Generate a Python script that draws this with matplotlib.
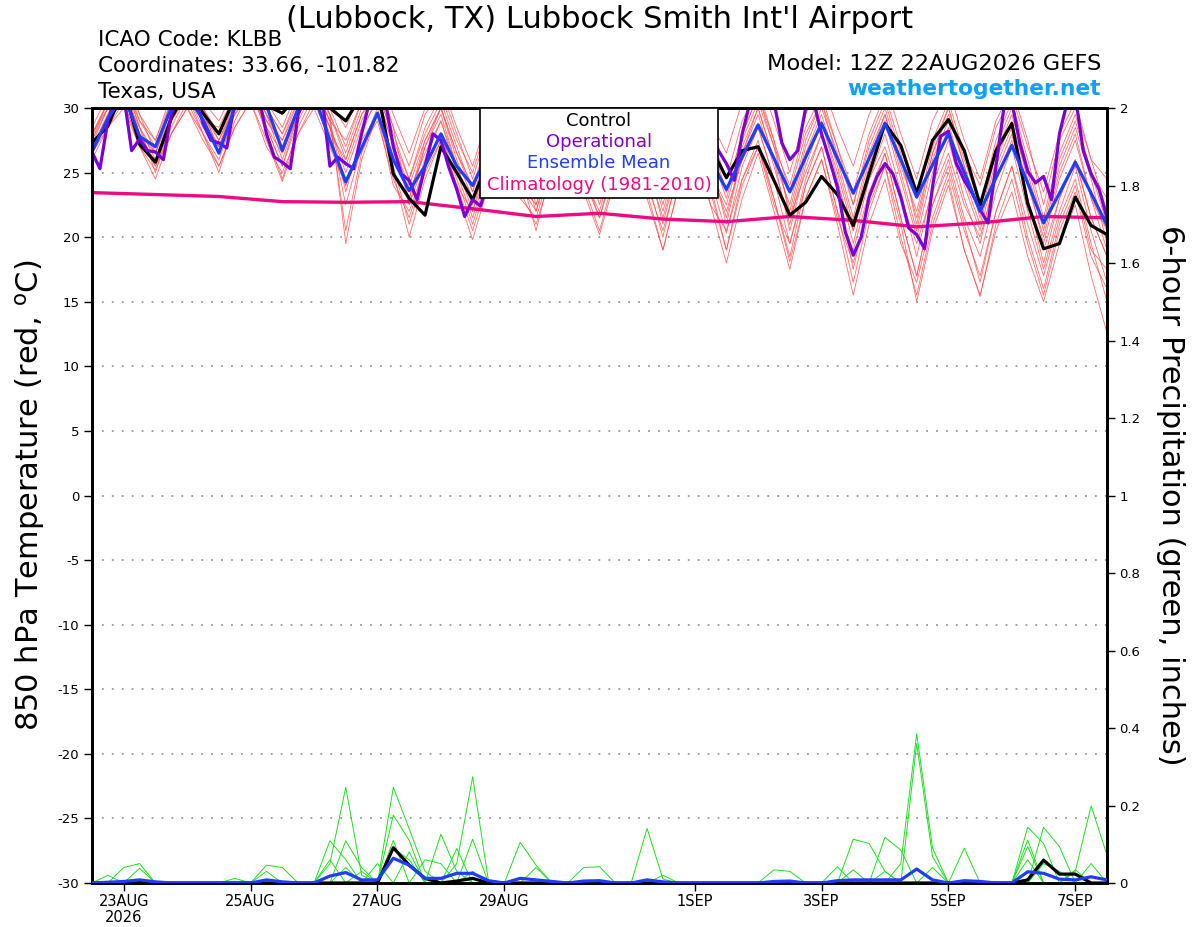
import numpy as np
import matplotlib
matplotlib.use("Agg")
import matplotlib.pyplot as plt
from matplotlib.patches import Rectangle

plt.rcParams['font.family'] = ['DejaVu Sans']
plt.rcParams['axes.unicode_minus'] = False

# forecast hours (GEFS 6-hourly, operational 3-hourly, climatology daily)
hours = np.arange(0, 385, 6)
op_hours = np.arange(0, 385, 3)
clim_hours = np.arange(0, 385, 24)

control = [27.3, 28.6, 31.5, 27.2, 25.8, 29.2, 31.5, 29.6, 28.0, 30.8, 32.0, 30.2,
           29.6, 31.0, 32.0, 30.0, 29.0, 31.0, 31.5, 24.9, 23.0, 21.7, 27.0, 25.0,
           22.9, 26.0, 29.5, 28.5, 25.5, 27.5, 30.5, 28.5, 25.5, 28.0, 30.5, 29.0,
           25.5, 28.0, 30.5, 27.0, 24.6, 26.7, 27.0, 24.4, 21.7, 22.7, 24.7, 23.3,
           20.9, 24.9, 28.8, 27.1, 23.4, 27.5, 29.1, 26.7, 22.5, 26.7, 28.8, 22.6,
           19.1, 19.5, 23.1, 20.9, 20.2]

ens_mean = [26.6, 29.2, 31.0, 27.8, 27.0, 30.0, 31.0, 29.1, 26.5, 30.0, 31.0, 30.2,
            26.7, 30.0, 31.0, 27.5, 24.3, 26.9, 29.6, 26.0, 23.6, 25.5, 28.0, 25.5,
            24.0, 26.5, 29.0, 28.0, 25.5, 27.0, 29.5, 28.0, 25.5, 27.5, 29.5, 28.0,
            25.0, 27.0, 29.0, 26.0, 23.7, 26.2, 28.7, 26.1, 23.5, 26.2, 28.8, 26.1,
            23.4, 26.1, 28.8, 26.0, 23.1, 25.6, 28.0, 25.0, 22.0, 24.6, 27.1, 24.2,
            21.1, 23.4, 25.8, 23.4, 20.9]

operational = [26.6, 25.3, 29.0, 31.0, 31.0, 26.7, 27.6, 26.7, 26.6, 26.0,
               29.5, 31.0, 32.0, 31.0, 28.8, 27.5, 27.3, 26.9, 30.5, 31.5,
               32.0, 31.0, 28.0, 26.2, 25.8, 25.3, 29.5, 31.0, 32.0, 31.0,
               25.5, 26.2, 25.7, 25.3, 28.0, 30.5, 31.0, 30.5, 27.0, 24.9,
               24.4, 22.9, 25.5, 28.0, 27.5, 25.4, 23.7, 21.6, 22.9, 22.4,
               24.5, 25.8, 28.0, 30.0, 31.0, 30.0, 28.0, 26.0, 25.0, 26.0,
               29.0, 31.0, 31.5, 30.0, 28.0, 26.5, 25.5, 27.0, 29.5, 31.0,
               31.5, 30.5, 28.0, 26.5, 25.5, 27.0, 29.5, 30.5, 28.5, 26.7,
               25.7, 24.4, 28.0, 30.5, 31.5, 32.0, 30.5, 27.3, 26.0, 26.7,
               30.0, 30.5, 28.0, 26.0, 23.9, 20.4, 18.6, 20.0, 23.1, 24.7,
               25.7, 24.9, 23.1, 20.7, 20.2, 19.1, 23.9, 27.8, 28.2, 25.7,
               24.4, 23.4, 22.1, 21.1, 25.5, 30.0, 30.5, 27.3, 25.1, 24.2,
               24.7, 22.9, 28.0, 30.5, 31.0, 26.7, 24.9, 23.7, 21.5]

climatology = [23.45, 23.3, 23.15, 22.75, 22.7, 22.75, 22.2, 21.6, 21.85,
               21.4, 21.2, 21.6, 21.3, 20.8, 21.1, 21.6, 21.5]

members = [
    [27.0, 29.5, 31.5, 28.0, 25.5, 29.0, 31.5, 29.5, 27.5, 30.5, 32.0, 29.0, 27.0, 30.0, 31.5, 28.5,
     25.0, 28.5, 30.5, 26.0, 23.5, 26.5, 29.0, 25.5, 22.5, 26.0, 28.5, 25.0, 23.0, 27.0, 29.5, 26.0,
     24.0, 27.5, 30.0, 26.5, 23.0, 27.0, 29.0, 25.0, 22.0, 26.0, 28.5, 24.5, 21.5, 25.0, 28.0, 24.0,
     20.5, 24.5, 27.0, 23.0, 19.5, 23.5, 26.5, 22.5, 20.0, 24.5, 27.5, 23.0, 19.0, 23.0, 26.0, 21.5, 18.5],
    [28.0, 30.5, 32.5, 28.5, 26.5, 30.0, 32.0, 30.0, 28.0, 31.0, 32.5, 30.0, 28.0, 31.0, 32.5, 29.5,
     19.5, 26.0, 29.5, 24.0, 22.0, 25.5, 28.0, 24.5, 21.0, 25.0, 28.0, 24.0, 22.5, 26.5, 29.0, 25.0,
     21.5, 26.0, 28.5, 24.5, 20.0, 25.5, 28.5, 24.0, 19.0, 24.5, 27.5, 23.0, 18.5, 24.0, 27.0, 22.0,
     16.5, 22.0, 25.5, 20.0, 15.5, 21.0, 24.5, 19.0, 15.5, 20.5, 23.5, 18.5, 15.0, 19.5, 22.5, 17.0, 12.6],
    [26.5, 29.0, 31.0, 27.5, 25.5, 28.0, 30.5, 28.0, 25.0, 29.0, 31.5, 28.0, 24.5, 28.5, 31.0, 28.0,
     26.0, 29.5, 31.5, 27.5, 24.5, 28.0, 30.5, 27.0, 23.5, 27.5, 30.0, 26.5, 24.0, 28.0, 31.0, 27.5,
     25.0, 29.0, 31.5, 27.5, 24.5, 28.0, 30.5, 26.5, 23.0, 27.5, 30.5, 27.0, 24.0, 28.5, 31.0, 27.0,
     22.5, 27.0, 30.0, 26.0, 21.5, 26.5, 29.5, 25.5, 22.0, 27.0, 30.0, 25.5, 21.0, 26.0, 29.0, 25.0, 23.0],
    [27.5, 30.0, 32.0, 29.0, 27.0, 30.5, 32.5, 30.0, 26.5, 30.0, 32.0, 29.5, 26.0, 29.5, 31.5, 28.5,
     22.5, 27.0, 30.0, 25.0, 20.0, 24.5, 27.5, 23.5, 19.8, 24.0, 27.0, 23.0, 21.5, 25.5, 28.0, 24.0,
     20.5, 25.0, 28.0, 23.5, 19.0, 24.0, 27.0, 22.5, 18.0, 23.0, 26.5, 22.0, 17.5, 23.0, 26.0, 21.0,
     15.5, 21.0, 24.5, 19.5, 16.5, 21.5, 25.0, 20.5, 17.0, 22.0, 25.5, 20.0, 16.0, 21.0, 24.0, 19.0, 17.5],
    [27.0, 29.0, 30.5, 27.0, 26.0, 28.5, 31.0, 29.0, 27.0, 29.5, 31.0, 28.5, 25.5, 29.0, 31.5, 29.0,
     27.5, 30.5, 32.0, 28.5, 25.5, 29.5, 31.5, 28.0, 24.5, 28.5, 31.0, 27.5, 25.5, 29.0, 31.5, 28.5,
     26.0, 29.5, 32.0, 28.5, 25.5, 29.0, 31.5, 28.0, 24.5, 29.0, 31.5, 27.5, 23.5, 28.0, 30.5, 27.0,
     23.5, 28.0, 31.0, 27.0, 23.0, 27.5, 30.5, 26.5, 24.0, 28.5, 31.0, 27.0, 23.5, 28.0, 30.5, 26.0, 24.5],
    [28.5, 31.0, 33.0, 29.5, 27.5, 31.0, 33.0, 30.5, 29.0, 31.5, 33.0, 30.5, 28.5, 31.5, 33.0, 30.0,
     27.0, 30.5, 32.5, 28.5, 22.5, 26.0, 29.0, 25.0, 21.5, 25.5, 28.5, 25.0, 20.5, 25.5, 28.5, 24.5,
     22.0, 26.5, 29.5, 25.5, 21.5, 26.0, 29.0, 24.5, 20.3, 25.5, 28.5, 24.5, 19.5, 24.5, 28.0, 23.5,
     17.5, 23.0, 26.5, 21.5, 17.0, 22.5, 26.0, 21.5, 18.5, 23.5, 27.0, 22.0, 17.5, 22.0, 25.5, 20.5, 16.5],
    [26.0, 28.5, 30.5, 27.0, 24.5, 28.0, 30.0, 28.0, 25.5, 28.5, 30.5, 27.5, 24.3, 28.0, 30.5, 27.5,
     24.0, 27.5, 29.5, 25.5, 21.0, 25.0, 27.5, 24.0, 20.5, 24.5, 27.5, 23.5, 21.0, 25.0, 27.5, 23.5,
     20.2, 24.5, 27.0, 23.0, 19.0, 24.0, 26.5, 22.5, 20.5, 24.5, 27.0, 23.0, 18.1, 23.0, 26.0, 21.5,
     18.0, 22.5, 25.5, 21.0, 15.0, 20.5, 24.0, 19.0, 15.4, 21.0, 24.5, 19.5, 15.5, 20.5, 23.5, 18.5, 16.0],
    [27.5, 30.5, 32.5, 29.5, 26.5, 29.5, 31.5, 29.0, 28.5, 31.0, 32.5, 30.0, 28.0, 30.5, 32.0, 30.5,
     28.5, 31.5, 33.0, 29.5, 26.5, 30.0, 32.0, 28.5, 25.5, 29.5, 31.5, 28.0, 26.0, 30.0, 32.0, 28.5,
     25.0, 29.0, 31.5, 28.0, 26.0, 30.0, 32.5, 29.0, 26.5, 30.5, 32.5, 29.0, 25.0, 29.5, 32.0, 28.5,
     25.5, 29.5, 32.0, 28.0, 24.5, 29.0, 31.5, 27.5, 24.5, 29.0, 31.5, 27.5, 22.5, 27.5, 30.0, 26.0, 22.0],
    [27.0, 29.0, 31.0, 28.5, 25.0, 29.0, 31.0, 28.5, 27.0, 30.0, 31.5, 28.5, 25.5, 29.5, 31.5, 29.0,
     23.5, 28.0, 31.0, 27.0, 24.0, 27.5, 30.0, 26.5, 24.0, 27.5, 30.5, 27.0, 22.5, 26.5, 29.5, 26.0,
     23.5, 27.5, 30.0, 26.5, 22.0, 26.5, 29.5, 25.5, 21.5, 26.5, 29.5, 25.5, 21.0, 26.0, 29.0, 25.0,
     20.5, 25.5, 29.0, 24.5, 20.0, 25.0, 28.5, 24.5, 21.0, 26.0, 29.0, 24.5, 19.5, 24.5, 27.5, 23.0, 19.0],
    [28.0, 30.0, 32.0, 28.5, 26.0, 29.5, 32.0, 29.5, 27.0, 30.5, 32.0, 29.5, 27.5, 30.5, 32.0, 29.0,
     20.5, 26.5, 29.5, 25.0, 23.0, 27.0, 29.5, 25.5, 22.0, 26.5, 29.5, 25.5, 23.5, 27.5, 30.5, 27.0,
     22.5, 27.0, 30.0, 26.0, 21.0, 26.0, 29.0, 25.0, 22.5, 27.0, 30.0, 26.0, 20.5, 25.5, 29.0, 24.5,
     19.5, 24.5, 28.0, 23.5, 18.5, 24.0, 27.5, 23.0, 19.5, 25.0, 28.0, 23.0, 18.0, 23.0, 26.0, 21.5, 18.5],
    [26.8, 29.5, 31.5, 28.0, 25.8, 29.0, 31.0, 28.0, 26.0, 29.5, 31.5, 28.5, 26.5, 29.5, 31.0, 28.5,
     25.5, 29.0, 31.5, 27.5, 22.5, 27.0, 30.0, 26.0, 23.0, 27.0, 30.0, 26.0, 22.0, 26.5, 29.5, 25.5,
     23.0, 27.5, 30.5, 26.5, 23.0, 27.0, 30.0, 26.0, 21.0, 26.5, 30.0, 26.0, 22.5, 27.5, 30.5, 26.0,
     21.5, 26.5, 29.5, 25.0, 20.5, 26.0, 29.0, 24.0, 20.5, 25.5, 28.5, 24.0, 20.0, 25.0, 28.0, 23.0, 20.5],
    [27.2, 30.0, 32.5, 29.0, 27.5, 30.5, 32.5, 30.0, 27.5, 30.0, 31.5, 29.0, 27.5, 30.0, 31.5, 29.5,
     26.5, 30.0, 32.0, 28.0, 24.5, 28.5, 31.0, 27.5, 25.0, 29.0, 31.5, 28.0, 24.5, 28.5, 31.0, 27.5,
     24.0, 28.0, 30.5, 27.0, 24.0, 28.5, 31.0, 27.5, 23.5, 28.0, 31.0, 27.0, 22.0, 27.0, 30.0, 26.5,
     22.5, 27.5, 30.5, 26.5, 21.0, 26.5, 30.0, 26.0, 22.5, 27.5, 30.5, 26.0, 21.5, 26.5, 29.5, 25.0, 21.0],
    [26.5, 28.5, 30.0, 27.0, 25.2, 28.0, 30.0, 27.5, 25.5, 28.5, 30.5, 27.0, 25.0, 28.0, 30.0, 27.0,
     24.0, 27.0, 29.0, 24.5, 21.5, 25.5, 28.0, 24.0, 22.0, 25.5, 28.0, 24.0, 22.0, 26.0, 28.5, 24.5,
     21.5, 25.5, 28.0, 24.0, 20.5, 25.0, 28.0, 23.5, 19.0, 24.0, 27.0, 22.5, 19.5, 24.0, 27.0, 22.0,
     19.0, 23.5, 26.5, 21.5, 17.0, 22.5, 25.5, 21.0, 16.5, 22.0, 25.5, 21.0, 17.0, 21.5, 24.5, 19.5, 15.0],
    [27.8, 30.5, 32.0, 28.0, 26.5, 30.0, 32.0, 29.5, 28.0, 30.5, 32.0, 29.5, 27.0, 30.0, 32.0, 29.5,
     26.0, 29.5, 31.0, 27.0, 23.0, 27.5, 30.0, 26.5, 23.5, 27.5, 30.5, 27.0, 23.0, 27.5, 30.0, 26.5,
     24.5, 28.5, 31.0, 27.5, 22.5, 27.5, 30.5, 26.5, 23.5, 28.0, 31.0, 27.5, 21.5, 26.5, 29.5, 25.5,
     21.0, 26.0, 29.5, 25.5, 22.0, 27.0, 30.0, 25.5, 21.5, 26.5, 29.5, 25.0, 20.5, 25.5, 28.5, 24.5, 19.5],
]

# 6-hour precipitation (inches), keyed by 6-hour step index; missing steps are zero
precip_control = {3: 0.004, 19: 0.091, 20: 0.046, 21: 0.012, 23: 0.005, 24: 0.012,
                  59: 0.008, 60: 0.059, 61: 0.023, 62: 0.023}
precip_mean = {1: 0.002, 2: 0.004, 3: 0.008, 4: 0.003, 11: 0.008, 12: 0.003, 15: 0.018,
               16: 0.027, 17: 0.008, 18: 0.008, 19: 0.064, 20: 0.046, 21: 0.012, 22: 0.012,
               23: 0.025, 24: 0.025, 25: 0.006, 27: 0.012, 28: 0.008, 29: 0.004, 31: 0.005,
               32: 0.006, 35: 0.008, 36: 0.003, 43: 0.004, 44: 0.005, 47: 0.006, 48: 0.008,
               49: 0.008, 50: 0.008, 51: 0.008, 52: 0.036, 53: 0.008, 55: 0.006, 56: 0.004,
               59: 0.029, 60: 0.025, 61: 0.01, 62: 0.008, 63: 0.016, 64: 0.008}
precip_members = [
    {15: 0.05, 16: 0.247, 17: 0.02, 51: 0.05, 52: 0.385, 53: 0.09},
    {19: 0.247, 20: 0.14, 21: 0.03, 50: 0.03, 52: 0.36, 53: 0.068},
    {23: 0.05, 24: 0.274, 25: 0.005, 62: 0.03, 63: 0.199, 64: 0.072},
    {19: 0.175, 20: 0.11, 35: 0.141, 36: 0.01, 59: 0.144, 60: 0.102},
    {15: 0.109, 16: 0.06, 22: 0.126, 23: 0.03, 48: 0.113, 49: 0.102, 50: 0.03},
    {16: 0.109, 17: 0.04, 24: 0.113, 50: 0.118, 51: 0.085, 60: 0.144, 61: 0.094},
    {2: 0.04, 3: 0.05, 19: 0.09, 20: 0.06, 27: 0.105, 28: 0.046, 59: 0.111},
    {3: 0.038, 11: 0.046, 12: 0.04, 23: 0.089, 55: 0.09, 59: 0.094, 63: 0.05},
    {1: 0.02, 15: 0.06, 19: 0.11, 31: 0.04, 32: 0.042, 43: 0.034, 44: 0.03, 59: 0.06},
    {9: 0.012, 16: 0.04, 18: 0.05, 20: 0.08, 28: 0.04, 36: 0.02, 47: 0.042, 62: 0.034},
    {11: 0.03, 17: 0.03, 21: 0.06, 22: 0.05, 24: 0.03, 48: 0.034, 53: 0.04, 60: 0.05, 61: 0.03},
]

tick_hours = [12, 60, 108, 156, 228, 276, 324, 372]
tick_labels = ['23AUG\n2026', '25AUG', '27AUG', '29AUG', '1SEP', '3SEP', '5SEP', '7SEP']


def to_series(d):
    arr = np.zeros(len(hours))
    for k, v in d.items():
        arr[k] = v
    return arr


fig = plt.figure(figsize=(12, 9.27), dpi=100)
ax = fig.add_axes([92 / 1200, 1 - 883 / 927, 1015 / 1200, 775 / 927])
ax2 = ax.twinx()

for m in members:
    ax.plot(hours, m, color='#ff4a4a', lw=0.6, alpha=0.8, zorder=2)
ax.plot(clim_hours, climatology, color='#ee0a80', lw=2.4, zorder=3)
ax.plot(hours, control, color='black', lw=2.3, zorder=4)
ax.plot(op_hours, operational, color='#7a00d6', lw=2.3, zorder=5)
ax.plot(hours, ens_mean, color='#1f3cff', lw=2.3, zorder=6)

ax.set_xlim(0, 384)
ax.set_ylim(-30, 30)
ax.set_yticks(np.arange(-30, 31, 5))
for t in range(-25, 30, 5):
    ax.axhline(t, color='#999999', lw=1.3, dashes=(1, 4.5), zorder=1)
ax.set_xticks(tick_hours)
ax.set_xticklabels(tick_labels, fontsize=10.5, linespacing=1.05)
ax.tick_params(axis='x', direction='out', length=6, width=1, pad=2)
ax.tick_params(axis='y', direction='out', length=6, width=1, labelsize=9.5, pad=3)

for pm in precip_members:
    ax2.plot(hours, to_series(pm), color='#22dd22', lw=0.7, zorder=2)
ax2.plot(hours, to_series(precip_control), color='black', lw=2.3, zorder=3)
ax2.plot(hours, to_series(precip_mean), color='#1f3cff', lw=2.3, zorder=4)
ax2.set_ylim(0, 2)
ax2.set_yticks(np.arange(0, 2.01, 0.2))
ax2.set_yticklabels(['%g' % round(v, 1) for v in np.arange(0, 2.01, 0.2)])
ax2.tick_params(axis='y', direction='out', length=6, width=1, labelsize=9.5, pad=3)

for a in (ax, ax2):
    for s in a.spines.values():
        s.set_linewidth(2.0)

# legend box over the top of the plot
ax2.add_patch(Rectangle((388 / 1015, 685 / 775), 238 / 1015, 90 / 775, transform=ax2.transAxes,
                        facecolor='white', edgecolor='black', lw=1.2, zorder=10))
box_x = 507 / 1015
for txt, col, ypx in [('Control', 'black', 121), ('Operational', '#7a00d6', 142),
                      ('Ensemble Mean', '#1f3cff', 163), ('Climatology (1981-2010)', '#ee0a80', 185)]:
    ax2.text(box_x, (883 - ypx) / 775, txt, color=col, fontsize=13, ha='center', va='center',
             transform=ax2.transAxes, zorder=11)

fig.text(0.5, 1 - 19 / 927, "(Lubbock, TX) Lubbock Smith Int'l Airport", fontsize=22,
         ha='center', va='center')
fig.text(98 / 1200, 1 - 40 / 927, 'ICAO Code: KLBB', fontsize=15.5, ha='left', va='center')
fig.text(98 / 1200, 1 - 66 / 927, 'Coordinates: 33.66, -101.82', fontsize=15.5, ha='left', va='center')
fig.text(98 / 1200, 1 - 92 / 927, 'Texas, USA', fontsize=15.5, ha='left', va='center')
fig.text(1101 / 1200, 1 - 64 / 927, 'Model: 12Z 22AUG2026 GEFS', fontsize=16.2, ha='right', va='center')
fig.text(1101 / 1200, 1 - 89 / 927, 'weathertogether.net', fontsize=15.7, fontweight='bold',
         color='#0aa2ff', ha='right', va='center')
fig.text(30 / 1200, 1 - 495 / 927, '850 hPa Temperature (red, $^{\\rm o}$C)', fontsize=22,
         rotation=90, ha='center', va='center')
fig.text(1170 / 1200, 1 - 495 / 927, '6-hour Precipitation (green, inches)', fontsize=22,
         rotation=-90, ha='center', va='center')

fig.savefig('out.png', dpi=100)
